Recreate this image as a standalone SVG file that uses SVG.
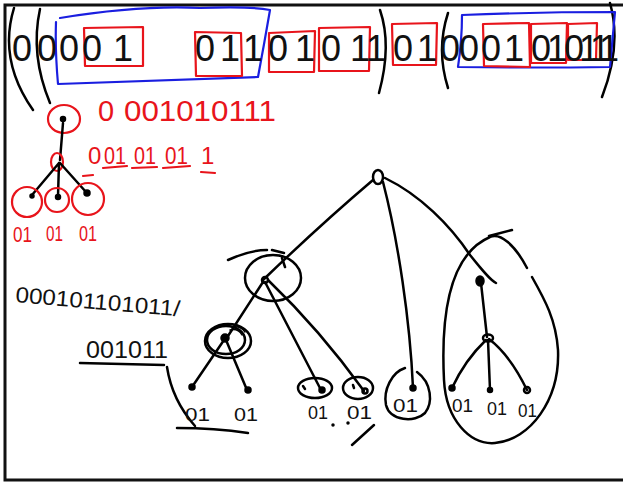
<svg xmlns="http://www.w3.org/2000/svg" width="623" height="483" viewBox="0 0 623 483">
<defs>
<style>
.bk{fill:none;stroke:#000;stroke-width:2.5;stroke-linecap:round;stroke-linejoin:round}
.rd{fill:none;stroke:#e8141b;stroke-width:2.2;stroke-linecap:round;stroke-linejoin:round}
.bl{fill:none;stroke:#1a1ee0;stroke-width:2.2;stroke-linecap:round;stroke-linejoin:round}
.dot{fill:#000;stroke:#000;stroke-width:1.5}
.thin{stroke-width:1.5}
.big{font-family:"Liberation Sans",Arial,sans-serif;font-size:36px;fill:#111;text-anchor:middle}
.tr{font-family:"Liberation Sans",Arial,sans-serif;font-size:22px;fill:#e8141b}
.tr1{font-family:"Liberation Sans",Arial,sans-serif;font-size:29px;fill:#e8141b}
.tr2{font-family:"Liberation Sans",Arial,sans-serif;font-size:24px;fill:#e8141b}
.tb{font-family:"Liberation Sans",Arial,sans-serif;font-size:22px;fill:#111}
.tb2{font-family:"Liberation Sans",Arial,sans-serif;font-size:24px;fill:#111}
.lb{font-family:"Liberation Sans",Arial,sans-serif;font-size:18px;fill:#111}
</style>
</defs>
<rect width="623" height="483" fill="#fff"/>
<path d="M623,5 H5 V480 H623" fill="none" stroke="#111" stroke-width="3"/>

<g id="top-row">
  <path class="bk" d="M14,8 Q-2,60 33,110"/>
  <path class="bk" d="M40,9 Q30,55 50,103"/>
  <path class="bk" d="M380,10 Q392,45 379,93"/>
  <path class="bk" d="M448,13 Q436,50 448,88"/>
  <path class="bk" d="M610,3 Q622,45 602,97"/>
  <path class="bl" d="M60,18 Q140,5 200,8 Q250,6 270,10 Q264,45 258,77 Q160,80 58,84 Q55,50 56,22"/>
  <path class="bl" d="M462,15 Q540,12 615,12 L610,67 Q530,68 458,67 Q462,40 462,15"/>
  <path class="rd" d="M84,28 L143,27 L143,66 L85,66 Z"/>
  <path class="rd" d="M195,32 L241,33 L242,76 L196,76 Z"/>
  <path class="rd" d="M269,33 L315,31 L314,72 L269,72 Z"/>
  <path class="rd" d="M319,28 L370,27 L369,71 L319,71 Z"/>
  <path class="rd" d="M392,24 L437,23 L436,65 L393,65 Z"/>
  <path class="rd" d="M483,24 L529,23 L530,67 L484,66 Z"/>
  <path class="rd" d="M531,24 L567,23 L566,63 L531,63 Z"/>
  <path class="rd" d="M568,24 L597,23 L596,60 L568,60 Z"/>
  <text class="big" x="22 47 69 92 123 205 230 253 278 305 331 360 376 403 427 450 469 491 514 541 557 574 589 600 609" y="61">0000101101011010001010111</text>
</g>

<g id="red-tree">
  <ellipse class="rd" cx="64" cy="119" rx="16" ry="14"/>
  <circle class="dot" cx="63" cy="119" r="2.5"/>
  <path class="bk" d="M63,123 L60,160"/>
  <ellipse class="rd" cx="57" cy="162" rx="6" ry="9"/>
  <path class="bk" d="M59,163 L32,195 M59,163 L58,196 M60,163 L86,192"/>
  <circle class="dot" cx="32" cy="196" r="2"/>
  <circle class="dot" cx="58" cy="197" r="2.5"/>
  <circle class="dot" cx="87" cy="193" r="3"/>
  <circle class="rd" cx="27" cy="202" r="15"/>
  <circle class="rd" cx="57" cy="200" r="12"/>
  <circle class="rd" cx="88" cy="199" r="16"/>
  <text class="tr" x="13" y="242" textLength="19" lengthAdjust="spacingAndGlyphs">01</text>
  <text class="tr" x="46" y="241" textLength="17" lengthAdjust="spacingAndGlyphs">01</text>
  <text class="tr" x="79" y="241" textLength="18" lengthAdjust="spacingAndGlyphs">01</text>
  <text class="tr1" x="98" y="121">0</text>
  <text class="tr1" x="124" y="121" textLength="152" lengthAdjust="spacingAndGlyphs">001010111</text>
  <text class="tr2" x="88" y="164">0</text>
  <text class="tr2" x="104" y="164" textLength="22" lengthAdjust="spacingAndGlyphs">01</text>
  <text class="tr2" x="134" y="164" textLength="22" lengthAdjust="spacingAndGlyphs">01</text>
  <text class="tr2" x="165" y="164" textLength="23" lengthAdjust="spacingAndGlyphs">01</text>
  <text class="tr2" x="201" y="164">1</text>
  <path class="rd" d="M103,168 L127,166 M132,168 L157,167 M163,168 L190,166 M201,172 L215,173 M83,176 L93,175"/>
</g>

<g id="black-notes">
  <text class="tb" x="15" y="302" transform="rotate(5 15 302)" textLength="165" lengthAdjust="spacingAndGlyphs">000101101011/</text>
  <text class="tb2" x="86" y="358" textLength="82" lengthAdjust="spacingAndGlyphs">001011</text>
  <path class="bk" d="M80,363 L164,365"/>
  <path class="bk" d="M167,367 Q172,400 195,426"/>
  <path class="bk" d="M177,428 Q215,428 248,433"/>
  <path class="bk" d="M374,425 L352,445"/>
  <circle class="dot" cx="333" cy="425" r="1"/>
  <circle class="dot" cx="348" cy="423" r="1"/>
</g>

<g id="connectors">
  <path class="bk" d="M373,180 Q320,225 263,280"/>
  <path class="bk" d="M383,182 C398,240 410,320 413,388"/>
  <path class="bk" d="M385,178 C420,195 450,225 470,255 C482,270 490,280 496,283"/>
  <path class="bk" d="M263,282 L228,336"/>
  <path class="bk" d="M224,340 L192,387 M226,340 L247,390"/>
  <path class="bk" d="M265,282 Q295,340 321,390"/>
  <path class="bk" d="M268,280 Q320,330 364,391"/>
  <path class="bk" d="M481,283 L487,337"/>
  <path class="bk" d="M486,340 Q465,360 452,388 M488,340 L490,390 M489,339 Q510,355 527,390"/>
</g>

<g id="root">
  <ellipse cx="378" cy="177" rx="5" ry="7" class="bk"/>
</g>

<g id="node-a">
  <ellipse class="bk" cx="273" cy="278" rx="28" ry="23"/>
  <path class="bk" d="M228,260 Q250,250 267,250 M272,250 L284,253 M282,258 L285,267"/>
  <circle class="bk" cx="265" cy="280" r="3"/>
</g>

<g id="node-b">
  <ellipse class="bk" cx="228" cy="341" rx="23" ry="17"/>
  <ellipse class="bk" cx="226" cy="340" rx="19" ry="14"/>
  <path class="bk thin" d="M230,330 Q238,328 242,335 M233,327 Q241,326 245,332"/>
  <circle class="dot" cx="225" cy="338" r="4"/>
  <circle class="dot" cx="192" cy="387" r="3"/>
  <circle class="dot" cx="248" cy="390" r="3"/>
  <text class="lb" x="185" y="421" textLength="25" lengthAdjust="spacingAndGlyphs">01</text>
  <text class="lb" x="234" y="421" textLength="24" lengthAdjust="spacingAndGlyphs">01</text>
</g>

<g id="node-c">
  <ellipse class="bk" cx="315" cy="388" rx="17" ry="10"/>
  <path class="bk" d="M303,386 L305,389"/>
  <circle class="dot" cx="322" cy="390" r="3"/>
  <text class="lb" x="308" y="419" textLength="20" lengthAdjust="spacingAndGlyphs">01</text>
</g>

<g id="node-d">
  <ellipse class="bk" cx="358" cy="388" rx="15" ry="11"/>
  <path class="bk" d="M353,385 L354,388"/>
  <circle class="bk" cx="365" cy="391" r="2.5"/>
  <text class="lb" x="347" y="419" textLength="25" lengthAdjust="spacingAndGlyphs">01</text>
</g>

<g id="node-e">
  <path class="bk" d="M405,368 C392,372 383,390 386,405 C390,421 415,423 425,413 C433,403 432,383 417,372"/>
  <circle class="dot" cx="413" cy="388" r="3"/>
  <text class="lb" x="393" y="412" textLength="25" lengthAdjust="spacingAndGlyphs">01</text>
</g>

<g id="node-f">
  <path class="bk" d="M527,268 C515,245 500,232 490,237 C455,252 440,300 444,380 C446,420 470,445 495,443 C530,440 560,400 558,350 C556,320 545,300 532,277"/>
  <path class="bk" d="M489,236 L512,230"/>
  <ellipse class="dot" cx="480" cy="281" rx="4" ry="5"/>
  <ellipse class="bk" cx="488" cy="338" rx="5" ry="3.5"/>
  <circle class="dot" cx="452" cy="388" r="3"/>
  <circle class="dot" cx="490" cy="390" r="2.5"/>
  <circle class="bk" cx="527" cy="390" r="3"/>
  <text class="lb" x="452" y="412" textLength="21" lengthAdjust="spacingAndGlyphs">01</text>
  <text class="lb" x="487" y="415" textLength="20" lengthAdjust="spacingAndGlyphs">01</text>
  <text class="lb" x="518" y="417" textLength="19" lengthAdjust="spacingAndGlyphs">01</text>
</g>
</svg>
